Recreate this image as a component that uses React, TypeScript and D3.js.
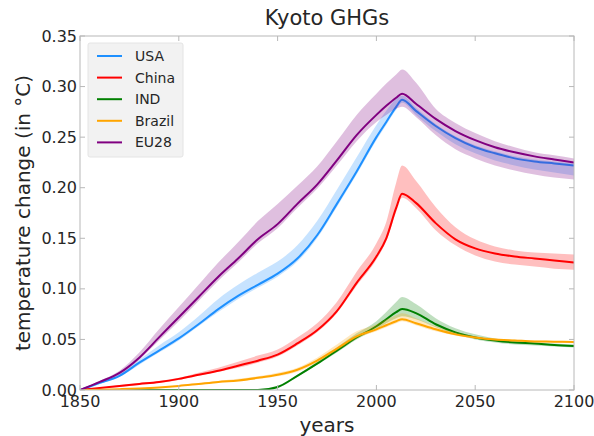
import React from 'react'
import * as d3 from 'd3'

const years = [1850, 1860, 1870, 1880, 1890, 1900, 1910, 1920, 1930, 1940, 1950, 1960, 1970, 1980, 1990, 2000, 2005, 2010, 2013, 2020, 2030, 2040, 2050, 2060, 2070, 2080, 2090, 2100]

const usaMean = [0, 0.007, 0.014, 0.027, 0.039, 0.051, 0.065, 0.080, 0.093, 0.104, 0.115, 0.130, 0.153, 0.184, 0.216, 0.250, 0.265, 0.280, 0.287, 0.276, 0.261, 0.249, 0.240, 0.234, 0.229, 0.226, 0.224, 0.222]
const usaHi = [0, 0.008, 0.016, 0.030, 0.044, 0.057, 0.073, 0.090, 0.104, 0.116, 0.127, 0.143, 0.167, 0.198, 0.230, 0.262, 0.276, 0.288, 0.291, 0.279, 0.263, 0.251, 0.242, 0.236, 0.231, 0.228, 0.226, 0.224]
const usaLo = [0, 0.006, 0.013, 0.025, 0.037, 0.049, 0.063, 0.077, 0.090, 0.101, 0.112, 0.127, 0.150, 0.181, 0.213, 0.247, 0.262, 0.277, 0.284, 0.272, 0.256, 0.243, 0.234, 0.227, 0.222, 0.218, 0.215, 0.212]

const chinaMean = [0, 0.002, 0.004, 0.006, 0.008, 0.011, 0.015, 0.019, 0.024, 0.029, 0.035, 0.046, 0.059, 0.078, 0.106, 0.132, 0.150, 0.180, 0.194, 0.185, 0.165, 0.149, 0.140, 0.135, 0.132, 0.130, 0.128, 0.126]
const chinaHi = [0, 0.002, 0.005, 0.007, 0.009, 0.012, 0.017, 0.022, 0.028, 0.034, 0.040, 0.052, 0.066, 0.087, 0.117, 0.145, 0.166, 0.205, 0.222, 0.207, 0.181, 0.161, 0.149, 0.142, 0.138, 0.136, 0.135, 0.134]
const chinaLo = [0, 0.002, 0.003, 0.005, 0.007, 0.010, 0.014, 0.018, 0.022, 0.027, 0.033, 0.044, 0.057, 0.076, 0.103, 0.129, 0.147, 0.176, 0.190, 0.180, 0.158, 0.143, 0.133, 0.127, 0.124, 0.122, 0.120, 0.119]

const indMean = [0, 0, 0, 0, 0, 0, 0, 0, 0, 0, 0.003, 0.014, 0.026, 0.039, 0.052, 0.063, 0.070, 0.077, 0.080, 0.076, 0.065, 0.057, 0.052, 0.049, 0.047, 0.046, 0.0445, 0.0435]
const indHi = [0, 0, 0, 0, 0, 0, 0, 0, 0, 0, 0.003, 0.015, 0.028, 0.042, 0.056, 0.068, 0.077, 0.087, 0.092, 0.085, 0.071, 0.061, 0.055, 0.051, 0.049, 0.047, 0.046, 0.045]
const indLo = [0, 0, 0, 0, 0, 0, 0, 0, 0, 0, 0.002, 0.013, 0.025, 0.037, 0.050, 0.060, 0.066, 0.071, 0.073, 0.070, 0.062, 0.055, 0.050, 0.047, 0.045, 0.044, 0.043, 0.042]

const brazilMean = [0, 0.0003, 0.0008, 0.0015, 0.0025, 0.004, 0.006, 0.008, 0.0095, 0.012, 0.015, 0.020, 0.029, 0.041, 0.053, 0.060, 0.064, 0.068, 0.070, 0.066, 0.060, 0.055, 0.052, 0.050, 0.049, 0.048, 0.0478, 0.0475]
const brazilHi = [0, 0.0004, 0.001, 0.002, 0.003, 0.0045, 0.0068, 0.009, 0.011, 0.0135, 0.017, 0.022, 0.032, 0.045, 0.058, 0.065, 0.070, 0.074, 0.076, 0.071, 0.063, 0.057, 0.053, 0.051, 0.050, 0.049, 0.0485, 0.048]
const brazilLo = [0, 0.0002, 0.0006, 0.0012, 0.002, 0.0035, 0.0052, 0.007, 0.0085, 0.0108, 0.0135, 0.018, 0.027, 0.039, 0.051, 0.058, 0.062, 0.066, 0.068, 0.064, 0.058, 0.054, 0.051, 0.049, 0.048, 0.047, 0.0466, 0.0463]

const euMean = [0, 0.008, 0.017, 0.032, 0.052, 0.072, 0.092, 0.112, 0.130, 0.149, 0.164, 0.184, 0.203, 0.227, 0.252, 0.272, 0.281, 0.289, 0.293, 0.283, 0.268, 0.256, 0.247, 0.240, 0.235, 0.231, 0.228, 0.225]
const euHi = [0, 0.009, 0.019, 0.037, 0.060, 0.082, 0.104, 0.126, 0.146, 0.167, 0.184, 0.202, 0.221, 0.246, 0.272, 0.293, 0.303, 0.312, 0.317, 0.304, 0.278, 0.264, 0.254, 0.246, 0.240, 0.235, 0.232, 0.229]
const euLo = [0, 0.007, 0.015, 0.030, 0.049, 0.068, 0.088, 0.108, 0.126, 0.145, 0.160, 0.180, 0.199, 0.222, 0.246, 0.265, 0.272, 0.278, 0.280, 0.270, 0.252, 0.238, 0.229, 0.222, 0.217, 0.213, 0.210, 0.208]

const seriesNames = ['USA', 'China', 'IND', 'Brazil', 'EU28']
const seriesColors = ['#1e90ff', '#ff0000', '#008000', '#ffa500', '#800080']
const seriesMean = [usaMean, chinaMean, indMean, brazilMean, euMean]
const seriesHi = [usaHi, chinaHi, indHi, brazilHi, euHi]
const seriesLo = [usaLo, chinaLo, indLo, brazilLo, euLo]

const xTicks = [1850, 1900, 1950, 2000, 2050, 2100]
const yTicks = [0, 0.05, 0.1, 0.15, 0.2, 0.25, 0.3, 0.35]

const W = 594
const H = 436
const margin = { top: 36, right: 20, bottom: 46, left: 80 }
const font = 'DejaVu Sans, sans-serif'
const textColor = '#262626'
const spine = '#b8b8b8'

export default function App() {
  const x = d3.scaleLinear().domain([1850, 2100]).range([margin.left, W - margin.right])
  const y = d3.scaleLinear().domain([0, 0.35]).range([H - margin.bottom, margin.top])

  const line = d3.line<number>()
    .x((_, i) => x(years[i]))
    .y(d => y(d))
    .curve(d3.curveMonotoneX)

  const band = (lo: number[], hi: number[]) =>
    d3.area<number>()
      .x((_, i) => x(years[i]))
      .y0((_, i) => y(lo[i]))
      .y1((_, i) => y(hi[i]))
      .curve(d3.curveMonotoneX)(years)

  const x0 = margin.left
  const x1 = W - margin.right
  const y0 = H - margin.bottom
  const y1 = margin.top

  return (
    <div style={{ position: 'absolute', left: 0, top: 0 }}>
      <svg width={W} height={H} style={{ display: 'block', background: '#fff' }}>
        <defs>
          <clipPath id="plot">
            <rect x={x0} y={y1} width={x1 - x0} height={y0 - y1} />
          </clipPath>
        </defs>

        <g clipPath="url(#plot)">
          {seriesNames.map((name, k) => (
            <g key={name}>
              <path d={band(seriesLo[k], seriesHi[k]) || ''} fill={seriesColors[k]} opacity={0.25} />
              <path d={line(seriesMean[k]) || ''} fill="none" stroke={seriesColors[k]} strokeWidth={2} />
            </g>
          ))}
        </g>

        {/* frame */}
        <rect x={x0} y={y1} width={x1 - x0} height={y0 - y1} fill="none" stroke={spine} strokeWidth={1} />

        {/* ticks, inward on all sides */}
        {xTicks.map(t => (
          <g key={'x' + t}>
            <line x1={x(t)} x2={x(t)} y1={y0} y2={y0 - 5} stroke={spine} />
            <line x1={x(t)} x2={x(t)} y1={y1} y2={y1 + 5} stroke={spine} />
            <text x={x(t)} y={y0 + 17} textAnchor="middle" fontFamily={font} fontSize={16} fill={textColor}>{t}</text>
          </g>
        ))}
        {yTicks.map(t => (
          <g key={'y' + t}>
            <line x1={x0} x2={x0 + 5} y1={y(t)} y2={y(t)} stroke={spine} />
            <line x1={x1} x2={x1 - 5} y1={y(t)} y2={y(t)} stroke={spine} />
            <text x={x0 - 3} y={y(t)} dy="0.35em" textAnchor="end" fontFamily={font} fontSize={16} fill={textColor}>{t.toFixed(2)}</text>
          </g>
        ))}

        <text x={(x0 + x1) / 2} y={25} textAnchor="middle" fontFamily={font} fontSize={21} fill={textColor}>Kyoto GHGs</text>
        <text x={(x0 + x1) / 2} y={432} textAnchor="middle" fontFamily={font} fontSize={20} fill={textColor}>years</text>
        <text transform={`translate(30, ${(y0 + y1) / 2}) rotate(-90)`} textAnchor="middle" fontFamily={font} fontSize={20} fill={textColor}>temperature change (in °C)</text>

        {/* legend */}
        <g transform="translate(88, 43)">
          <rect width={95} height={114} fill="#f2f2f2" stroke="#e4e4e4" rx={2} />
          {seriesNames.map((name, k) => (
            <g key={name} transform={`translate(0, ${13 + k * 21.6})`}>
              <line x1={9} x2={34} y1={0} y2={0} stroke={seriesColors[k]} strokeWidth={2} />
              <text x={47} y={0} dy="0.35em" fontFamily={font} fontSize={14} fill={textColor}>{name}</text>
            </g>
          ))}
        </g>
      </svg>
    </div>
  )
}
